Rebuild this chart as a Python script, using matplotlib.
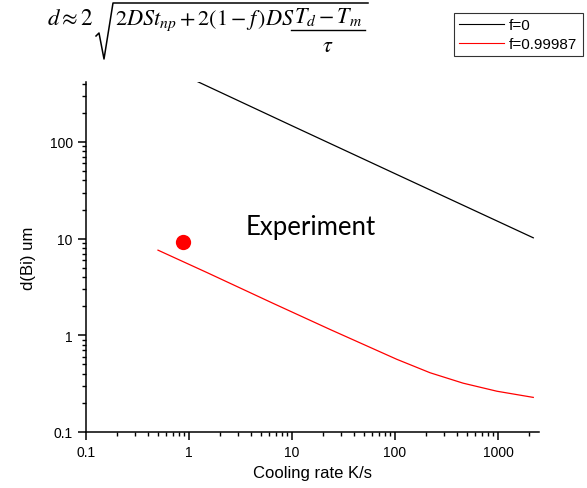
import matplotlib.pyplot as plt
from matplotlib.lines import Line2D
from matplotlib.ticker import LogLocator, FixedFormatter, FixedLocator, NullFormatter

# values (cooling rate K/s, d um)
rate_f0 = [0.5, 1.17, 10, 100, 2200]
d_f0 = [650, 428, 147, 47, 10.2]

rate_f1 = [0.5, 0.70, 1.5, 6.5, 23.4, 104, 219, 458, 977, 2200]
d_f1 = [7.6, 6.45, 4.45, 2.15, 1.15, 0.565, 0.41, 0.32, 0.264, 0.228]

exp_rate = [0.87]
exp_d = [9.25]

xticks = [0.1, 1, 10, 100, 1000]
xtick_labels = ["0.1", "1", "10", "100", "1000"]
yticks = [0.1, 1, 10, 100]
ytick_labels = ["0.1", "1", "10", "100"]

plt.rcParams["font.family"] = ["Liberation Sans", "DejaVu Sans"]
plt.rcParams["mathtext.fontset"] = "stix"

W, H = 587, 489
fig = plt.figure(figsize=(W / 100, H / 100), dpi=100)


def fx(x):
    return x / W


def fy(y):
    return 1 - y / H


ax = fig.add_axes([fx(86), fy(433), (539 - 86) / W, (433 - 83) / H])

ax.plot(rate_f0, d_f0, color="black", lw=0.9, label="f=0")
ax.plot(rate_f1, d_f1, color="red", lw=0.9, label="f=0.99987")
ax.plot(exp_rate, exp_d, "o", color="red", ms=11, mec="none")

ax.set_xscale("log")
ax.set_yscale("log")
ax.set_xlim(0.1, 2500)
ax.set_ylim(0.1, 417)

ax.xaxis.set_major_locator(FixedLocator(xticks))
ax.xaxis.set_major_formatter(FixedFormatter(xtick_labels))
ax.yaxis.set_major_locator(FixedLocator(yticks))
ax.yaxis.set_major_formatter(FixedFormatter(ytick_labels))
for axis in (ax.xaxis, ax.yaxis):
    axis.set_minor_locator(LogLocator(base=10, subs=range(2, 10), numticks=20))
    axis.set_minor_formatter(NullFormatter())

ax.spines["top"].set_visible(False)
ax.spines["right"].set_visible(False)
for s in ("left", "bottom"):
    ax.spines[s].set_linewidth(1.1)
ax.tick_params(which="major", direction="out", length=6, width=1.1, labelsize=10)
ax.tick_params(which="minor", direction="out", length=3, width=1.0)

ax.set_xlabel("Cooling rate K/s", fontsize=12, labelpad=4)
ax.set_ylabel("d(Bi) um", fontsize=12, labelpad=10)

ax.text(0.497, 0.586, "Experiment", transform=ax.transAxes, fontsize=18.5,
        family=["Lato", "DejaVu Sans"], ha="center", va="center")

# formula, laid out like the equation-editor image
fs = 16
fig.text(fx(47), fy(25), r"$d \approx 2$", fontsize=fs + 0.5, va="baseline")
fig.text(fx(115), fy(25), r"$2DSt_{np}+2(1-f\,)DS$", fontsize=fs, va="baseline")
fig.text(fx(328), fy(23), r"$T_d-T_m$", fontsize=fs, ha="center", va="baseline")
fig.text(fx(328), fy(52), r"$\tau$", fontsize=fs, ha="center", va="baseline")
fig.add_artist(Line2D([fx(291), fx(365)], [fy(31), fy(31)], color="black",
                      lw=1.0, transform=fig.transFigure))
fig.add_artist(Line2D([fx(96), fx(99), fx(104), fx(113), fx(368)],
                      [fy(37), fy(34), fy(60), fy(4), fy(4)], color="black",
                      lw=1.1, transform=fig.transFigure))

leg = fig.legend(loc="upper left", bbox_to_anchor=(fx(454), fy(14)),
                 fontsize=11, frameon=True, fancybox=False, handlelength=2.95,
                 borderpad=0.35, labelspacing=0.3, handletextpad=0.3,
                 borderaxespad=0)
leg.get_frame().set_edgecolor("black")
leg.get_frame().set_linewidth(0.8)
for line in leg.get_lines():
    line.set_linewidth(0.8)

fig.savefig("out.png", dpi=100)
